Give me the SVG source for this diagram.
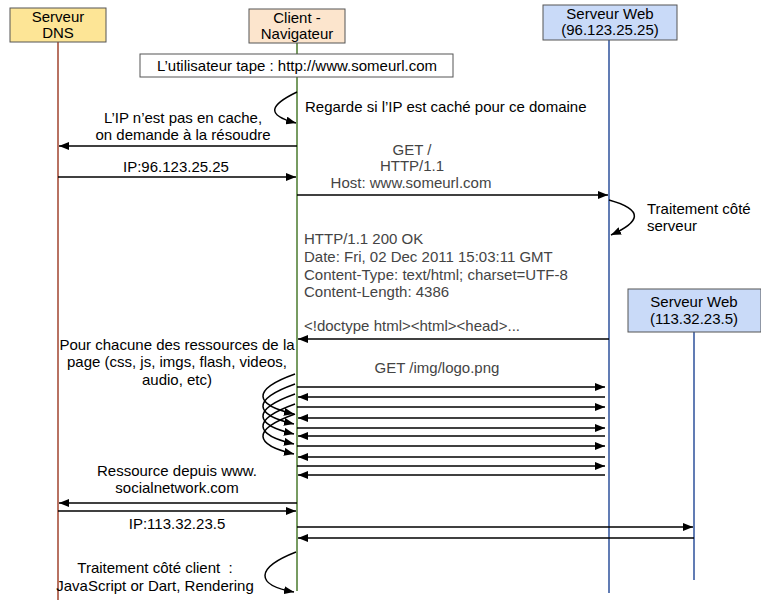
<svg xmlns="http://www.w3.org/2000/svg" width="761" height="600" viewBox="0 0 761 600">
<defs>
<marker id="ah" viewBox="0 0 10 8" refX="10" refY="4" markerWidth="10" markerHeight="8" markerUnits="userSpaceOnUse" orient="auto">
<path d="M0,0 L10,4 L0,8 Z" fill="#000"/>
</marker>
<style>
text{font-family:"Liberation Sans",Arial,sans-serif;font-size:15px;fill:#000}
.g{fill:#444}
.m{text-anchor:middle}
.msg{stroke:#000;stroke-width:1.5;fill:none;marker-end:url(#ah)}
.box{stroke:#555;stroke-width:1}
</style>
</defs>
<rect width="761" height="600" fill="#fff"/>
<g id="lifelines">
<line x1="58" y1="42" x2="58" y2="600" stroke="#a0432e" stroke-width="1.5"/>
<line x1="297" y1="43" x2="297" y2="591" stroke="#4a7a2c" stroke-width="1.5"/>
<line x1="609" y1="40" x2="609" y2="593" stroke="#2d509b" stroke-width="1.5"/>
<line x1="694" y1="332" x2="694" y2="580" stroke="#2d509b" stroke-width="1.5"/>
</g>
<g id="dns">
<rect class="box" x="10" y="8" width="96" height="34" fill="#fde596"/>
<text class="m" x="58" y="22">Serveur</text>
<text class="m" x="58" y="38">DNS</text>
</g>
<g id="client">
<rect class="box" x="249" y="9" width="96" height="34" fill="#fce5cd"/>
<text class="m" x="297" y="23">Client -</text>
<text class="m" x="297" y="39">Navigateur</text>
</g>
<g id="web1">
<rect class="box" x="543" y="5" width="134" height="35" fill="#c9daf8"/>
<text class="m" x="610" y="19">Serveur Web</text>
<text class="m" x="610" y="35">(96.123.25.25)</text>
</g>
<g id="web2">
<rect class="box" x="628" y="289" width="133" height="43" fill="#c9daf8"/>
<text class="m" x="694" y="307">Serveur Web</text>
<text class="m" x="694" y="324">(113.32.23.5)</text>
</g>
<g id="url">
<rect x="140" y="54" width="313" height="23" fill="#fff" stroke="#555" stroke-width="1"/>
<text class="m" x="297" y="71">L’utilisateur tape : http://www.someurl.com</text>
</g>
<g id="connectors">
<path class="msg" d="M297,92 C270,105 265,115 296,123"/>
<line class="msg" x1="297" y1="146" x2="59" y2="146"/>
<line class="msg" x1="58" y1="177" x2="296" y2="177"/>
<line class="msg" x1="297" y1="195" x2="608" y2="195"/>
<path class="msg" d="M609,200 C645,210 640,222 611,235"/>
<line class="msg" x1="609" y1="339" x2="298" y2="339"/>
<path class="msg" d="M295,374 C250,390 255,405 294,414"/>
<path class="msg" d="M295,384 C250,400 255,415 294,424"/>
<path class="msg" d="M295,394 C250,410 255,425 294,434"/>
<path class="msg" d="M295,404 C250,420 255,435 294,444"/>
<path class="msg" d="M295,414 C250,430 255,445 294,454"/>
<line class="msg" x1="297" y1="387" x2="605" y2="387"/>
<line class="msg" x1="605" y1="397" x2="298" y2="397"/>
<line class="msg" x1="297" y1="407" x2="605" y2="407"/>
<line class="msg" x1="605" y1="418" x2="298" y2="418"/>
<line class="msg" x1="297" y1="428" x2="605" y2="428"/>
<line class="msg" x1="605" y1="436" x2="298" y2="436"/>
<line class="msg" x1="297" y1="446" x2="605" y2="446"/>
<line class="msg" x1="605" y1="457" x2="298" y2="457"/>
<line class="msg" x1="297" y1="466" x2="605" y2="466"/>
<line class="msg" x1="605" y1="475" x2="298" y2="475"/>
<line class="msg" x1="297" y1="503" x2="59" y2="503"/>
<line class="msg" x1="58" y1="511" x2="296" y2="511"/>
<line class="msg" x1="297" y1="527" x2="693" y2="527"/>
<line class="msg" x1="694" y1="538" x2="298" y2="538"/>
<path class="msg" d="M296,552 C255,568 255,585 294,592"/>
</g>
<g id="labels">
<text x="305" y="112">Regarde si l’IP est caché pour ce domaine</text>
<text class="m" x="183" y="123">L’IP n’est pas en cache,</text>
<text class="m" x="183" y="140">on demande à la résoudre</text>
<text class="m" x="176" y="172">IP:96.123.25.25</text>
<text class="m g" x="412" y="155">GET /</text>
<text class="m g" x="412" y="171">HTTP/1.1</text>
<text class="m g" x="411" y="188">Host: www.someurl.com</text>
<text x="647" y="214">Traitement côté</text>
<text x="647" y="231">serveur</text>
<text class="g" x="304" y="244">HTTP/1.1 200 OK</text>
<text class="g" x="304" y="262">Date: Fri, 02 Dec 2011 15:03:11 GMT</text>
<text class="g" x="304" y="280">Content-Type: text/html; charset=UTF-8</text>
<text class="g" x="304" y="297">Content-Length: 4386</text>
<text class="g" x="304" y="331">&lt;!doctype html&gt;&lt;html&gt;&lt;head&gt;...</text>
<text class="m" x="177" y="350">Pour chacune des ressources de la</text>
<text class="m" x="177" y="367">page (css, js, imgs, flash, videos,</text>
<text class="m" x="177" y="385">audio, etc)</text>
<text class="m g" x="437" y="373">GET /img/logo.png</text>
<text class="m" x="177" y="476">Ressource depuis www.</text>
<text class="m" x="177" y="493">socialnetwork.com</text>
<text class="m" x="177" y="529">IP:113.32.23.5</text>
<text class="m" x="155" y="573">Traitement côté client &#160;:</text>
<text class="m" x="155" y="591">JavaScript or Dart, Rendering</text>
</g>
</svg>
